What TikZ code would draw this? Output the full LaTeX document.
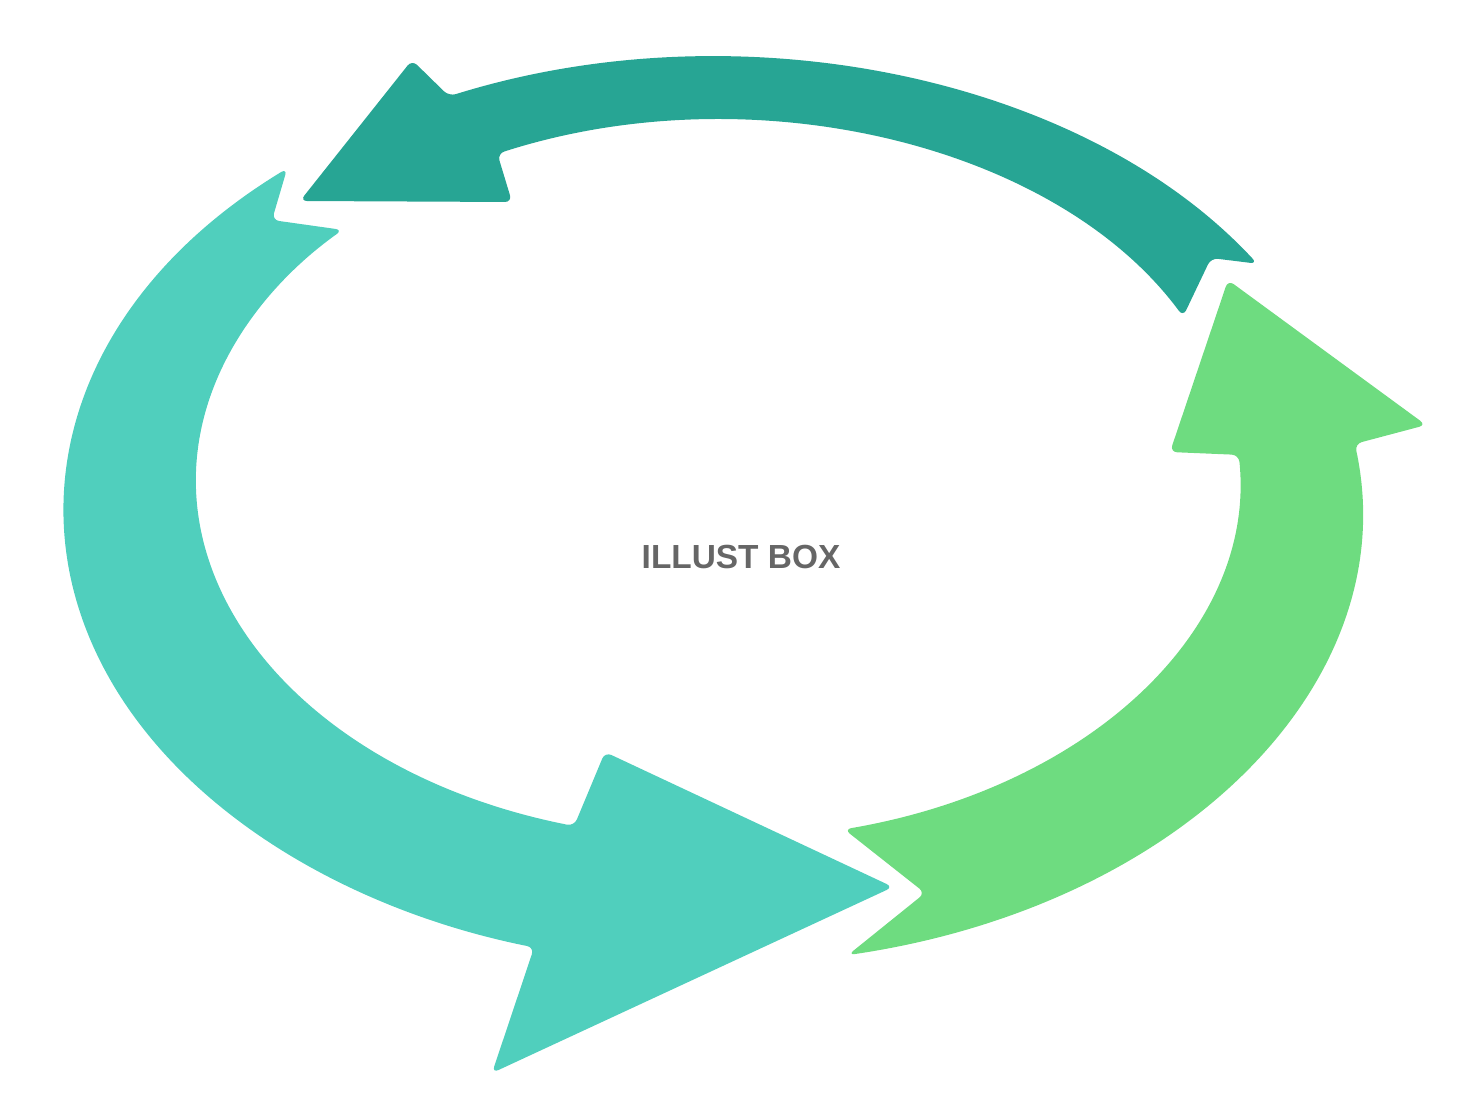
\documentclass[tikz,border=0pt]{standalone}
\usepackage{fontspec}
\setmainfont{Liberation Sans}
\usepackage{tikz}
\usetikzlibrary{calc}

\definecolor{darkteal}{HTML}{27A594}
\definecolor{lightteal}{HTML}{50CFBD}
\definecolor{leafgreen}{HTML}{6EDC80}
\definecolor{logogray}{HTML}{666666}

\begin{document}
\begin{tikzpicture}[
  x=0.01cm, y=-0.01cm,
  piece/.style={line join=round, rounded corners=2pt},
  outerring/.style={x radius=649, y radius=454},
  innerring/.style={x radius=522, y radius=360},
  logo/.style={font=\fontsize{9.5}{11}\selectfont\bfseries, text=logogray, inner sep=0pt}
]
\useasboundingbox (0,0) rectangle (1480,1110);

% centres of the two ellipses that bound the ring
\coordinate (oc) at (713,511);
\coordinate (ic) at (718,480);

% Top arrow (dark teal), pointing left
\fill[darkteal, piece]
  ($(oc)+(-33:649 and 454)$) arc[outerring, start angle=-33, end angle=-114]
  -- (412,60) -- (300,201) -- (512,202)
  -- ($(ic)+(-115:522 and 360)$) arc[innerring, start angle=-115, end angle=-27]
  -- (1211,258) -- cycle;

% Left arrow (light teal), pointing right
\fill[lightteal, piece]
  ($(oc)+(229:649 and 454)$) arc[outerring, start angle=229, end angle=106]
  -- (492,1073) -- (893,887) -- (605,752)
  -- ($(ic)+(106:522 and 360)$) arc[innerring, start angle=106, end angle=224]
  -- (272,220) -- cycle;

% Right arrow (green), pointing up
\fill[leafgreen, piece]
  (925,893) -- ($(ic)+(76:522 and 360)$) arc[innerring, start angle=76, end angle=-4]
  -- (1170,452) -- (1228,280) -- (1426,425)
  -- ($(oc)+(-8.5:649 and 454)$) arc[outerring, start angle=-8.5, end angle=78]
  -- cycle;

% Centre label
\node[logo] (label) at (741,557) {ILLUST BOX};

\end{tikzpicture}
\end{document}
